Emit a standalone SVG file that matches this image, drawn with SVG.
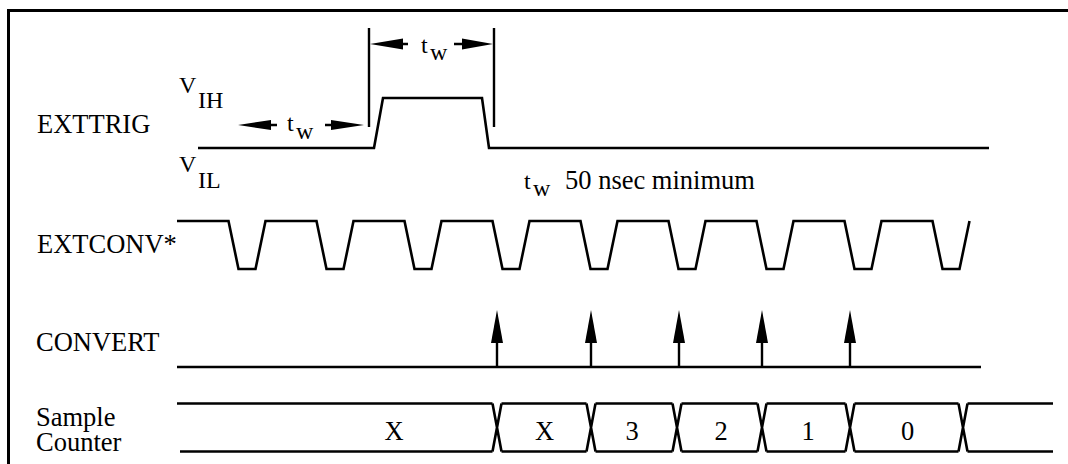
<svg xmlns="http://www.w3.org/2000/svg" width="1068" height="464" viewBox="0 0 1068 464">
<style>
.t{font-family:"Liberation Serif","Times New Roman",serif;font-size:26.5px;fill:#000}
.s{font-size:24px}
.w{fill:none;stroke:#000;stroke-width:2.6;stroke-linejoin:miter}
.d{fill:none;stroke:#000;stroke-width:2.4}
.h{fill:#000;stroke:none}
</style>
<rect width="1068" height="464" fill="#fff"/>
<g id="frame">
<path d="M1068,10.5 H8.5 V464" fill="none" stroke="#000" stroke-width="3"/>
</g>
<g id="exttrig">
<text class="t" x="37" y="133">EXTTRIG</text>
<text class="t s" x="179" y="93">V</text>
<text class="t s" x="198" y="108">IH</text>
<text class="t s" x="179" y="172">V</text>
<text class="t s" x="198" y="188">IL</text>
<path class="w" d="M198,148 H374 L383,98 H482 L489,148 H989"/>
</g>
<g id="tw-note">
<text class="t s" x="524" y="189">t</text>
<text class="t s" x="533" y="196">w</text>
<text class="t" x="565" y="189">50 nsec minimum</text>
</g>
<g id="extconv">
<text class="t" x="37" y="253">EXTCONV*</text>
<path class="w" d="M177,221 H228.5 L238.5,269 H255.5 L265.5,221 H316.5 L326.5,269 H343.5 L353.5,221 H404.5 L414.5,269 H431.5 L441.5,221 H492.5 L502.5,269 H519.5 L529.5,221 H580.5 L590.5,269 H607.5 L617.5,221 H668.5 L678.5,269 H695.5 L705.5,221 H756.5 L766.5,269 H783.5 L793.5,221 H844.5 L854.5,269 H871.5 L881.5,221 H932.5 L942.5,269 H959.5 L969.5,221"/>
</g>
<g id="convert">
<text class="t" x="36" y="351">CONVERT</text>
<path class="w" d="M177,367 H981"/>
</g>
<g id="sample-counter">
<text class="t" x="36" y="426">Sample</text>
<text class="t" x="36" y="451">Counter</text>
<path class="w" d="M177,403.5 H492.5 M180,451.5 H492.5 M501.5,403.5 H586.5 M501.5,451.5 H586.5 M595.5,403.5 H672.5 M595.5,451.5 H672.5 M681.5,403.5 H757.5 M681.5,451.5 H757.5 M766.5,403.5 H845.5 M766.5,451.5 H845.5 M854.5,403.5 H958.5 M854.5,451.5 H958.5 M967.5,403.5 H1053 M967.5,451.5 H1053"/>
<path class="w" d="M492.5,403.5 L501.5,451.5 M492.5,451.5 L501.5,403.5 M586.5,403.5 L595.5,451.5 M586.5,451.5 L595.5,403.5 M672.5,403.5 L681.5,451.5 M672.5,451.5 L681.5,403.5 M757.5,403.5 L766.5,451.5 M757.5,451.5 L766.5,403.5 M845.5,403.5 L854.5,451.5 M845.5,451.5 L854.5,403.5 M958.5,403.5 L967.5,451.5 M958.5,451.5 L967.5,403.5"/>
<text class="t" x="394" y="439.5" text-anchor="middle">X</text>
<text class="t" x="544.5" y="439.5" text-anchor="middle">X</text>
<text class="t" x="632" y="439.5" text-anchor="middle">3</text>
<text class="t" x="721" y="439.5" text-anchor="middle">2</text>
<text class="t" x="808" y="439.5" text-anchor="middle">1</text>
<text class="t" x="907.5" y="439.5" text-anchor="middle">0</text>
</g>
<g id="connectors">
<path class="d" d="M369,28 V127 M494,28 V127 M403,44 H408 M454,44 H462 M271,125 H277 M325,125 H331"/>
<polygon class="h" points="370,44 403,38.5 403,49.5"/>
<polygon class="h" points="493,44 462,38.5 462,49.5"/>
<polygon class="h" points="238,125 271,120 271,130"/>
<polygon class="h" points="364,125 331,120 331,130"/>
<text class="t s" x="421" y="53">t</text>
<text class="t s" x="430" y="60">w</text>
<text class="t s" x="287" y="131">t</text>
<text class="t s" x="296" y="139">w</text>
<path class="d" d="M497,367 V340 M591,367 V340 M679,367 V340 M762,367 V340 M850,367 V340"/>
<polygon class="h" points="497,310 491,343 503,343"/>
<polygon class="h" points="591,310 585,343 597,343"/>
<polygon class="h" points="679,310 673,343 685,343"/>
<polygon class="h" points="762,310 756,343 768,343"/>
<polygon class="h" points="850,310 844,343 856,343"/>
</g>
</svg>
